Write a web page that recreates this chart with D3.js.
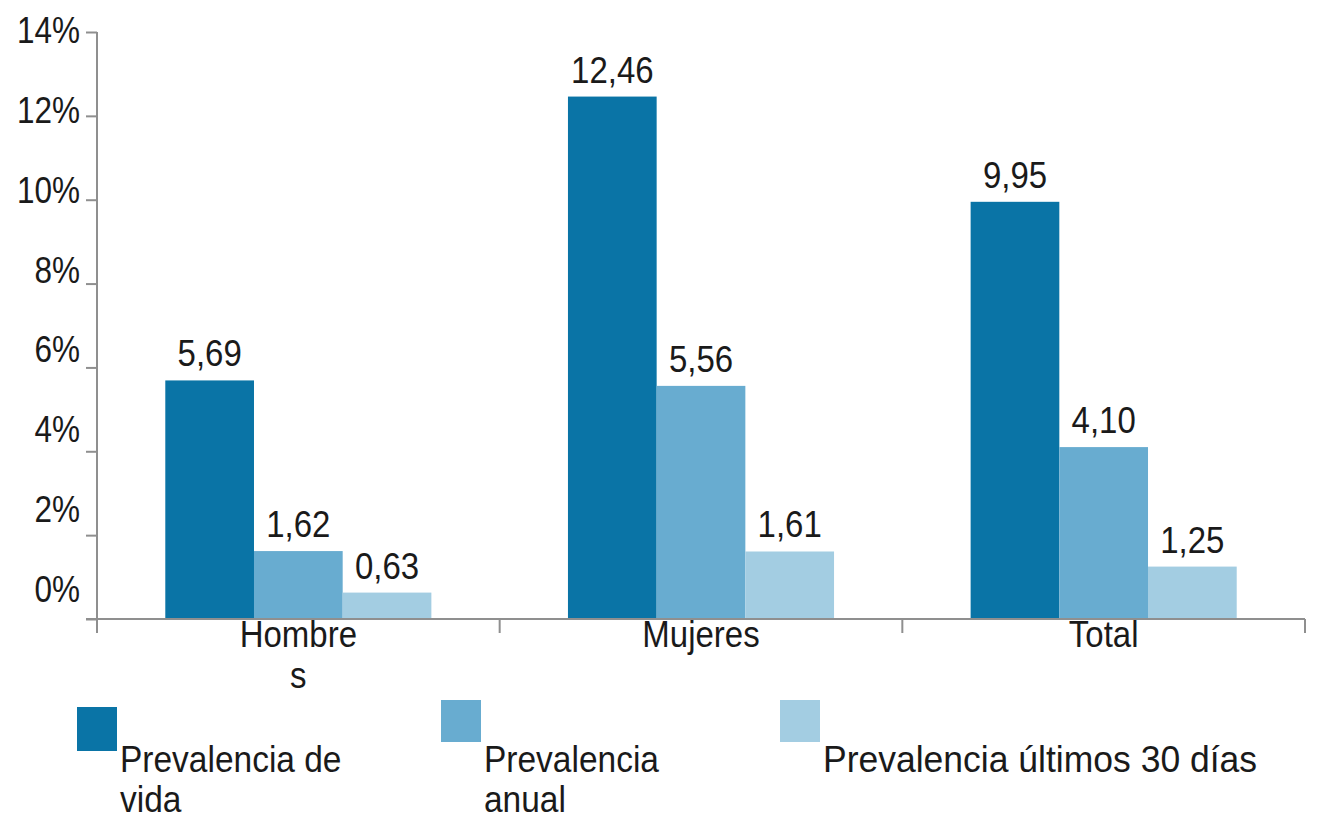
<!DOCTYPE html>
<html>
<head>
<meta charset="utf-8">
<script src="https://cdn.jsdelivr.net/npm/d3@7"></script>
<style>
  html, body { margin: 0; padding: 0; background: #ffffff; }
  svg { display: block; }
  text { font-family: "Liberation Sans", Arial, sans-serif; fill: #1a1a1a; }
</style>
</head>
<body>
<svg id="chart" width="1317" height="829"></svg>
<script>
// ---- data ----
const categories = ["Hombres", "Mujeres", "Total"];
const categoryLabelLines = [["Hombre", "s"], ["Mujeres"], ["Total"]];
const seriesNames = ["Prevalencia de vida", "Prevalencia anual", "Prevalencia últimos 30 días"];
const legendLabelLines = [["Prevalencia de", "vida"], ["Prevalencia", "anual"], ["Prevalencia últimos 30 días"]];
const vidaValues = [5.69, 12.46, 9.95];
const anualValues = [1.62, 5.56, 4.10];
const ultimos30Values = [0.63, 1.61, 1.25];
const yTickValues = [0, 2, 4, 6, 8, 10, 12, 14];
const yTickLabels = ["0%", "2%", "4%", "6%", "8%", "10%", "12%", "14%"];
const seriesColors = ["#0a74a6", "#68acd0", "#a3cde2"];

const seriesValues = [vidaValues, anualValues, ultimos30Values];

const svg = d3.select("#chart");
const FONT = 33;
const STRETCH = 1.12;
const axisColor = "#8f8f8f";

function placeText(sel, x, y, stretch) {
  sel.attr("transform", `translate(${x},${y}) scale(1,${stretch || STRETCH})`);
}

// ---- scales ----
const y = d3.scaleLinear().domain([0, 14]).range([619, 32]);
const yLabel = d3.scaleLinear().domain([0, 14]).range([602, 43]); // label baselines
const x0 = d3.scaleBand().domain(categories).range([97, 1305]).paddingInner(0).paddingOuter(0);
const x1 = d3.scaleBand().domain(seriesNames).range([0, x0.bandwidth()]).paddingInner(0).paddingOuter(0.77);

// ---- bars ----
const groups = svg.append("g").selectAll("g")
  .data(categories)
  .join("g")
  .attr("transform", d => `translate(${x0(d)},0)`);

groups.each(function(cat, ci) {
  const g = d3.select(this);
  seriesNames.forEach((s, si) => {
    const v = seriesValues[si][ci];
    g.append("rect")
      .attr("x", x1(s))
      .attr("y", y(v))
      .attr("width", x1.bandwidth())
      .attr("height", y(0) - y(v))
      .attr("fill", seriesColors[si]);
    const t = g.append("text")
      .attr("text-anchor", "middle")
      .attr("font-size", FONT)
      .text(d3.format(".2f")(v).replace(".", ","));
    placeText(t, x1(s) + x1.bandwidth() / 2, y(v) - 14);
  });
});

// ---- y axis ----
const yAxisG = svg.append("g").attr("transform", "translate(97,0)")
  .call(d3.axisLeft(y).tickValues(yTickValues).tickSize(11).tickFormat(""));
yAxisG.select(".domain").remove();
yAxisG.selectAll(".tick line").attr("stroke", axisColor).attr("stroke-width", 2);
svg.append("line")
  .attr("x1", 97).attr("x2", 97).attr("y1", y(14)).attr("y2", 633)
  .attr("stroke", axisColor).attr("stroke-width", 2);

yTickValues.forEach((v, i) => {
  const t = svg.append("text")
    .attr("text-anchor", "end")
    .attr("font-size", 31.5)
    .text(yTickLabels[i]);
  placeText(t, 80, yLabel(v), 1.18);
});

// ---- x axis ----
svg.append("line")
  .attr("x1", 86).attr("x2", 1305).attr("y1", y(0)).attr("y2", y(0))
  .attr("stroke", axisColor).attr("stroke-width", 2);
const xTickPositions = categories.map(c => x0(c) + x0.bandwidth());
xTickPositions.forEach(px => {
  svg.append("line")
    .attr("x1", px).attr("x2", px).attr("y1", y(0)).attr("y2", 633)
    .attr("stroke", axisColor).attr("stroke-width", 2);
});
categories.forEach((c, i) => {
  categoryLabelLines[i].forEach((line, li) => {
    const t = svg.append("text")
      .attr("text-anchor", "middle")
      .attr("font-size", FONT)
      .text(line);
    placeText(t, x0(c) + x0.bandwidth() / 2, 647 + li * 41);
  });
});

// ---- legend ----
const legendX = [77, 441, 780];
const legendBoxY = [707, 700, 700];
seriesNames.forEach((s, i) => {
  svg.append("rect")
    .attr("x", legendX[i]).attr("y", legendBoxY[i])
    .attr("width", 40).attr("height", i === 0 ? 44 : 42)
    .attr("fill", seriesColors[i]);
  legendLabelLines[i].forEach((line, li) => {
    const t = svg.append("text")
      .attr("font-size", i === 2 ? 35.5 : 33.5)
      .text(line);
    placeText(t, legendX[i] + 43, 772 + li * 40, i === 2 ? 1.06 : STRETCH);
  });
});
</script>
</body>
</html>
